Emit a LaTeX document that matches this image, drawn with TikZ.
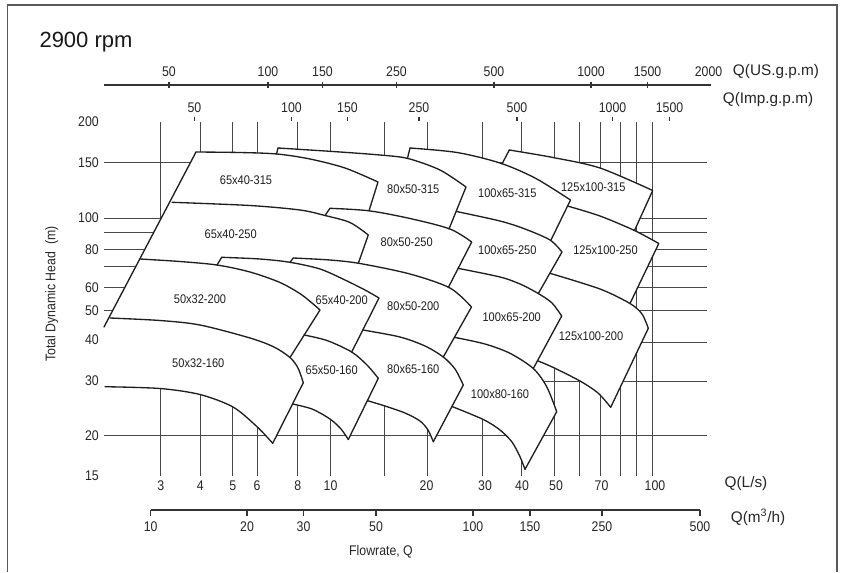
\documentclass[tikz,border=0pt]{standalone}
\usepackage{fontspec}
\setmainfont{Liberation Sans}
\newfontfamily\cond{Liberation Sans}[FakeStretch=0.88]
\begin{document}
\begin{tikzpicture}[x=0.75pt,y=-0.75pt]
\tikzset{
 gline/.style={draw=black!72, line width=0.75pt},
 pline/.style={draw=black!88, line width=1pt, line join=round, line cap=round},
 axl/.style={draw=black!80, line width=0.9pt},
 frm/.style={draw=black!65, line width=1.1pt},
 rlab/.style={font=\cond\fontsize{9.4}{11}\selectfont, text=black!88, inner sep=0pt},
 num/.style={font=\cond\fontsize{10.5}{12}\selectfont, text=black!85, inner sep=0pt},
 qlab/.style={font=\fontsize{11.5}{13}\selectfont, text=black!85, inner sep=0pt},
}
\useasboundingbox (0,0) rectangle (843,572);
% frame
\draw[frm] (7.5,572) -- (7.5,5) -- (837,5) -- (837,572);
% title
\node[font=\fontsize{16.5}{19}\selectfont, text=black!90, inner sep=0pt] (title) at (86,42) {2900 rpm};

% ---- top US gpm axis
\draw[axl] (104,85) -- (711,85);
\foreach \x/\t in {169/50,268/100,322.5/150,396.5/250,494/500,591/1000,647.5/1500}
  \draw[axl] (\x,81.5) -- (\x,87.5);
\foreach \x/\t in {169/50,268/100,322.5/150,396.5/250,494/500,591/1000,647.5/1500,708.5/2000}
  \node[num] (us\t) at (\x,71.7) {\t};
\node[qlab] (uslab) at (776,71.5) {Q(US.g.p.m)};
% Imp gpm ticks
\foreach \x/\t in {194.5/50,291.5/100,347.5/150,419/250,517/500,612.5/1000,669.5/1500}{
  \draw[axl] (\x,116.5) -- (\x,121);
  \node[num] (imp\t) at (\x,107.3) {\t};}
\node[qlab] (implab) at (768,99.5) {Q(Imp.g.p.m)};

% ---- grid
\foreach \x in {160.7,200.3,232.7,257,297.7,330,384.3,427.7,482.7,521.7,554.3,579.3,600.7,620.7,636.7,652.3}
  \draw[gline] (\x,122.3) -- (\x,475.5);
\foreach \y in {162.3,218,232.7,249,266.7,287,310.7,435.3}
  \draw[gline] (104.3,\y) -- (707,\y);
\foreach \y in {342.3,381}
  \draw[gline] (500,\y) -- (707,\y);

% ---- white union of the pump regions
\fill[white] (104,327) -- (196,152)
 -- plot[smooth] coordinates {(196,152) (240,152.5) (277,154)}
 -- (278,148)
 -- plot[smooth] coordinates {(278,148) (333,151.5) (380,155) (408,158.5)}
 -- (410,148)
 -- plot[smooth] coordinates {(410,148) (457,152.5) (502,163.6)}
 -- (509.3,150)
 -- plot[smooth] coordinates {(509.3,150) (553,157.5) (600,168) (652.7,190.5)}
 -- (634.5,230.5) -- (658.8,243.5) -- (630,303.5)
 -- plot[smooth] coordinates {(630,303.5) (642,314) (648.3,328.3)}
 -- (610.7,407.3)
 -- plot[smooth] coordinates {(610.7,407.3) (598,393) (580,381) (553.3,367.5) (537.5,360.7)}
 -- (533.3,368.5)
 -- plot[smooth] coordinates {(533.3,368.5) (546.7,386.7) (556.7,411.7)}
 -- (525,469.3)
 -- plot[smooth] coordinates {(525,469.3) (520,456.7) (512,442) (500,430) (483.3,419.5) (452,406.5)}
 -- (433.3,441.7)
 -- plot[smooth] coordinates {(433.3,441.7) (428,430) (420,421) (405,413) (385,406) (367.5,400.7)}
 -- (348.3,439.5)
 -- plot[smooth] coordinates {(348.3,439.5) (341,429) (330,419) (312,409) (292.5,404)}
 -- (272.7,443.3)
 -- plot[smooth] coordinates {(272.7,443.3) (257,426.7) (233,407) (200,394.5) (160,388.5) (105,386.7)}
 -- cycle;

% ---- pump region outlines
\draw[pline] (196,152) -- (104,327);
% row 315
\draw[pline] plot[smooth] coordinates {(196,152) (240,152.5) (277,154) (310,159) (345,168) (378,182)} -- (369,210.8);
\draw[pline] (276.5,154) -- (278,148);
\draw[pline] plot[smooth] coordinates {(278,148) (333,151.5) (380,155) (408,158.5) (440,170) (466,187)} -- (449,229);
\draw[pline] (407.5,158.3) -- (410,148);
\draw[pline] plot[smooth] coordinates {(410,148) (457,152.5) (500,163) (535,178) (570.5,200)} -- (551,240);
\draw[pline] (502,164) -- (509.3,150);
\draw[pline] plot[smooth] coordinates {(509.3,150) (553,157.5) (600,168) (652.7,190.5)} -- (634.5,230.5);
% row 250
\draw[pline] plot[smooth] coordinates {(172,202.3) (250,205.5) (300,210) (325,215.5) (350,222.5) (368.3,235)} -- (358.3,263.3);
\draw[pline] (325,215.5) -- (330,208.3);
\draw[pline] plot[smooth] coordinates {(330,208.3) (369,210.8) (410,218.5) (450,229) (471.7,242)} -- (448.3,287.5);
\draw[pline] plot[smooth] coordinates {(456.5,211.5) (500,221) (525,229) (550,240) (562,252)} -- (538.3,293.5);
\draw[pline] plot[smooth] coordinates {(567.5,206) (600,216) (634.5,230.5) (658.8,243.5)} -- (630,303.5);
% row 200
\draw[pline] plot[smooth] coordinates {(140,259) (180,261.5) (217,265) (250,272) (280,282.5) (302,295) (320,310)} -- (290,357.5);
\draw[pline] (217,265) -- (221.7,257.3);
\draw[pline] plot[smooth] coordinates {(221.7,257.3) (260,259) (290,262.3) (320,269) (345,280) (365,290) (379,298)} -- (351.7,352);
\draw[pline] (290,262.3) -- (293.3,258);
\draw[pline] plot[smooth] coordinates {(293.3,258) (330,260) (360,263.5) (410,274) (450,288) (471.5,307)} -- (443.3,357);
\draw[pline] plot[smooth] coordinates {(458,268.3) (500,277) (520,284) (538.3,293.5) (552,303) (561.7,316)} -- (533.3,368.5);
\draw[pline] plot[smooth] coordinates {(550,273.3) (600,289) (630,303.5) (642,314) (648.3,328.3)} -- (610.7,407.3);
% row 160
\draw[pline] plot[smooth] coordinates {(110,318) (160,320.5) (200,325) (250,338) (274,347) (290,357.5) (298,368) (303.3,382.7)} -- (272.7,443.3);
\draw[pline] plot[smooth] coordinates {(105,386.7) (160,388.5) (200,394.5) (233,407) (257,426.7) (272.7,443.3)};
\draw[pline] plot[smooth] coordinates {(304,335) (327,340.5) (351.7,352) (367,365) (378.3,378.3)} -- (348.3,439.5);
\draw[pline] plot[smooth] coordinates {(292.5,404) (312,409) (330,419) (341,429) (348.3,439.5)};
\draw[pline] plot[smooth] coordinates {(363,330) (400,337) (425,346) (443.3,357) (455,369) (463.3,385)} -- (433.3,441.7);
\draw[pline] plot[smooth] coordinates {(367.5,400.7) (385,406) (405,413) (420,421) (428,430) (433.3,441.7)};
\draw[pline] plot[smooth] coordinates {(454.4,337.3) (485,344) (510,353.3) (533.3,368.5) (546.7,386.7) (556.7,411.7)} -- (525,469.3);
\draw[pline] plot[smooth] coordinates {(452,406.5) (483.3,419.5) (500,430) (512,442) (520,456.7) (525,469.3)};
\draw[pline] plot[smooth] coordinates {(537.5,360.7) (553.3,367.5) (580,381) (598,393) (610.7,407.3)};

% ---- region labels
\node[rlab] (r1) at (246,180) {65x40-315};
\node[rlab] (r2) at (413.3,189.3) {80x50-315};
\node[rlab] (r3) at (507.3,192.7) {100x65-315};
\node[rlab] (r4) at (593.3,187.3) {125x100-315};
\node[rlab] (r5) at (230.7,234) {65x40-250};
\node[rlab] (r6) at (406.7,241.7) {80x50-250};
\node[rlab] (r7) at (507.3,250.5) {100x65-250};
\node[rlab] (r8) at (605.5,250.3) {125x100-250};
\node[rlab] (r9) at (200,299) {50x32-200};
\node[rlab] (r10) at (341.7,300) {65x40-200};
\node[rlab] (r11) at (413.3,305.7) {80x50-200};
\node[rlab] (r12) at (511.7,317.3) {100x65-200};
\node[rlab] (r13) at (591,336) {125x100-200};
\node[rlab] (r14) at (198.3,362.7) {50x32-160};
\node[rlab] (r15) at (331.7,370) {65x50-160};
\node[rlab] (r16) at (413.3,369) {80x65-160};
\node[rlab] (r17) at (500,394) {100x80-160};

% ---- head axis labels
\foreach \y/\t in {121.7/200,162.3/150,218/100,250/80,287.7/60,310.7/50,340/40,380.7/30,436/20,476/15}
  \node[num, anchor=east] (h\t) at (99,\y) {\t};
\node[num, rotate=90] (hlab) at (51.7,294) {Total Dynamic Head\ \ (m)};

% ---- L/s labels
\foreach \x/\t in {160.7/3,200.3/4,232.7/5,257/6,297.7/8,330.5/10,426.5/20,485/30,522/40,556/50,601.5/70,655/100}
  \node[num] (ls\t) at (\x,486) {\t};
\node[qlab] (lslab) at (746,484) {Q(L/s)};

% ---- m3/h axis
\draw[axl] (150.7,510) -- (700,510);
\foreach \x/\t in {150.7/10,247/20,303.5/30,376/50,473/100,530/150,602/250,700/500}{
  \draw[axl] (\x,510) -- (\x,515.5);
  \node[num] (mh\t) at (\x,526.5) {\t};}
\node[qlab] (mhlab) at (758,517) {Q(m\textsuperscript{3}/h)};
\node[num] (flow) at (381,552) {Flowrate, Q};
\end{tikzpicture}
\end{document}
